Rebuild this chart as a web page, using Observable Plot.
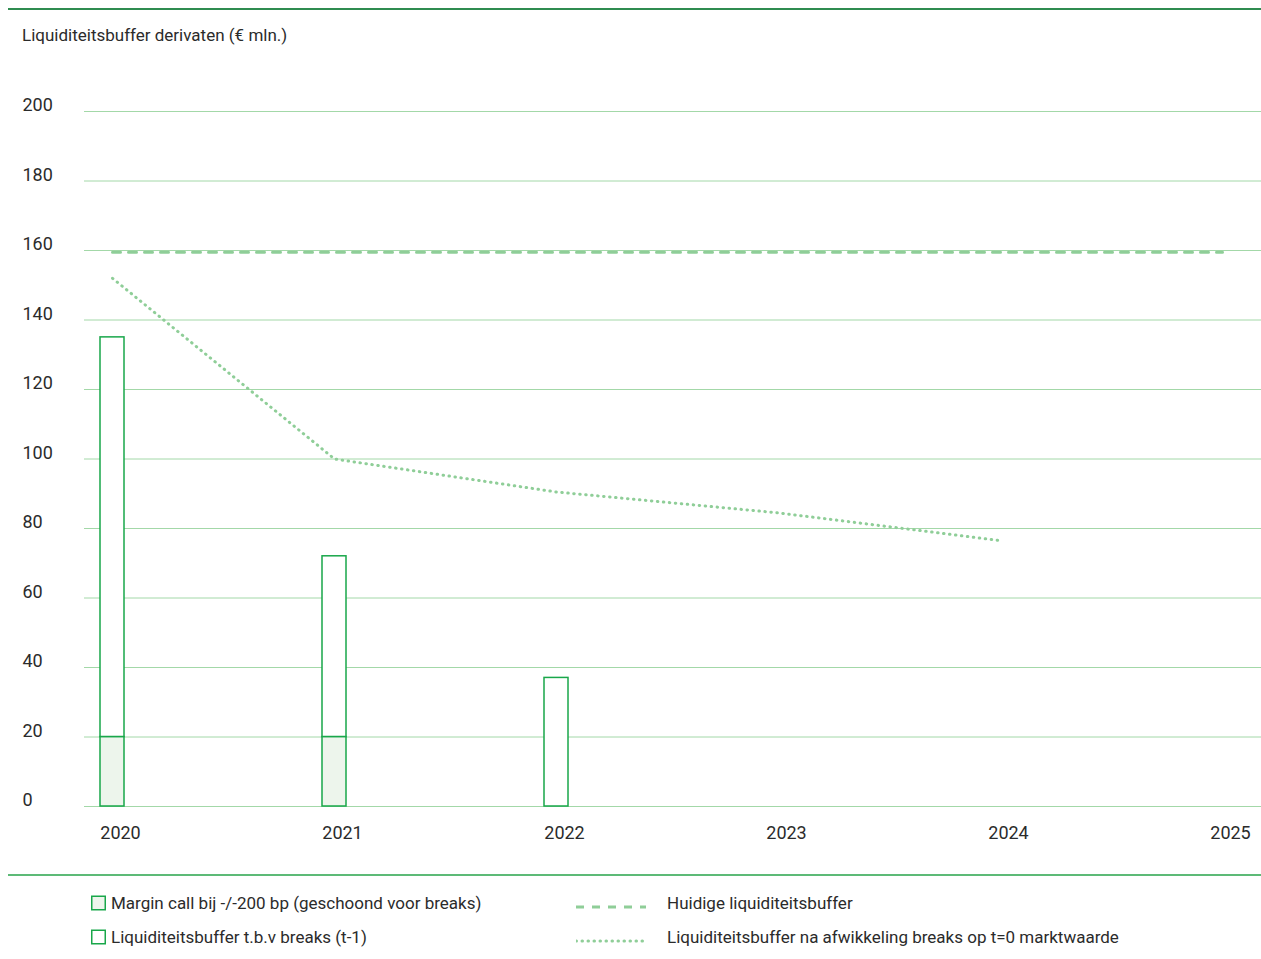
<!DOCTYPE html>
<html>
<head>
<meta charset="utf-8">
<script src="https://cdn.jsdelivr.net/npm/d3@7"></script>
<script src="https://cdn.jsdelivr.net/npm/@observablehq/plot@0.6"></script>
<style>
  html, body { margin: 0; padding: 0; background: #fff; }
  body { width: 1261px; height: 959px; position: relative; font-family: Roboto, "Noto Sans", sans-serif; color: #2b2b2b; overflow: hidden; }
  .rule-top { position: absolute; left: 8px; right: 0; top: 8px; height: 1.5px; background: #2f8c50; }
  .rule-bottom { position: absolute; left: 8px; right: 0; top: 874px; height: 1.5px; background: #5dba77; }
  .title { position: absolute; left: 22px; top: 25px; font-size: 17px; line-height: 20px; }
  #chart { position: absolute; left: 0; top: 60px; }
  .legend-item { position: absolute; font-size: 17px; line-height: 20px; display: flex; align-items: center; white-space: nowrap; }
  .legend-item svg { display: block; }
</style>
</head>
<body>
<div class="rule-top"></div>
<div class="title">Liquiditeitsbuffer derivaten (€ mln.)</div>
<div id="chart"></div>
<div class="rule-bottom"></div>
<div id="legend"></div>
<script>
// Years on the horizontal axis
const years = [2020, 2021, 2022, 2023, 2024, 2025];
// Stacked bars: margin call (bottom) and buffer for breaks (top), € mln.
const barYears = [2020, 2021, 2022];
const marginCall = [20, 20, 0];
const breaksBuffer = [115, 52, 37];
// Current liquidity buffer (flat) across the horizon
const currentBufferYears = [2020, 2025];
const currentBuffer = [159.5, 159.5];
// Buffer after settling breaks at t=0 market value
const afterYears = [2020, 2021, 2022, 2023, 2024];
const afterSettlement = [152, 100, 90.5, 84.5, 76.5];
// Y axis ticks
const yTicks = [0, 20, 40, 60, 80, 100, 120, 140, 160, 180, 200];

const green = "#19a74a";
const lightFill = "#edf5ec";
const gridColor = "#a3d8a8";
const lineColor = "#8fce98";

const bars = barYears.flatMap((year, i) => [
  {year, series: "margin", y1: 0, y2: marginCall[i]},
  {year, series: "buffer", y1: marginCall[i], y2: marginCall[i] + breaksBuffer[i]}
]).filter(d => d.y2 > d.y1);

const flat = currentBufferYears.map((year, i) => ({year, value: currentBuffer[i]}));
const after = afterYears.map((year, i) => ({year, value: afterSettlement[i]}));

const chart = Plot.plot({
  width: 1261,
  height: 800,
  marginLeft: 84,
  marginRight: 0,
  marginTop: 51,
  marginBottom: 54,
  style: {fontFamily: "Roboto, 'Noto Sans', sans-serif", fontSize: "18px", color: "#2b2b2b", background: "transparent"},
  x: {type: "linear", domain: [2020, 2025], range: [112, 1222]},
  y: {domain: [0, 200]},
  marks: [
    Plot.ruleY(yTicks, {stroke: gridColor, strokeWidth: 1}),
    Plot.rectY(bars, {
      x1: "year", x2: "year", y1: "y1", y2: "y2",
      insetLeft: -12, insetRight: -12,
      fill: d => d.series === "margin" ? lightFill : "#ffffff",
      stroke: green, strokeWidth: 1.5
    }),
    Plot.lineY(flat, {x: "year", y: "value", stroke: lineColor, strokeWidth: 3, strokeDasharray: "8,8"}),
    Plot.lineY(after, {x: "year", y: "value", stroke: lineColor, strokeWidth: 3, strokeDasharray: "0.5,5.5", strokeLinecap: "round"}),
    Plot.axisY(yTicks, {tickSize: 0, tickPadding: 0, textAnchor: "start", dx: -62, dy: -6, label: null, fill: "#2b2b2b", fontSize: 18}),
    Plot.axisX(years, {tickSize: 0, tickPadding: 0, dx: 8, dy: 20, tickFormat: d => String(d), label: null, fill: "#2b2b2b", fontSize: 18})
  ]
});
document.getElementById("chart").appendChild(chart);

// Legend below the chart
const legendItems = [
  {label: "Margin call bij -/-200 bp (geschoond voor breaks)", kind: "box", fill: lightFill, left: 91, top: 893},
  {label: "Liquiditeitsbuffer t.b.v breaks (t-1)", kind: "box", fill: "#ffffff", left: 91, top: 927},
  {label: "Huidige liquiditeitsbuffer", kind: "dash", left: 576, top: 893},
  {label: "Liquiditeitsbuffer na afwikkeling breaks op t=0 marktwaarde", kind: "dot", left: 576, top: 927}
];
const legend = d3.select("#legend");
for (const item of legendItems) {
  const div = legend.append("div").attr("class", "legend-item")
    .style("left", item.left + "px").style("top", item.top + "px");
  if (item.kind === "box") {
    const s = div.append("svg").attr("width", 20).attr("height", 20);
    s.append("rect").attr("x", 0.75).attr("y", 3.25).attr("width", 13.5).attr("height", 13.5)
      .attr("fill", item.fill).attr("stroke", green).attr("stroke-width", 1.5);
  } else {
    const s = div.append("svg").attr("width", 91).attr("height", 20);
    const l = s.append("line").attr("x1", 0).attr("x2", 70).attr("y1", 14).attr("y2", 14)
      .attr("stroke", lineColor);
    if (item.kind === "dash") l.attr("stroke-width", 3).attr("stroke-dasharray", "8,8");
    else l.attr("stroke-width", 3).attr("stroke-dasharray", "0.5,5.5").attr("stroke-linecap", "round");
  }
  div.append("span").text(item.label);
}
</script>
</body>
</html>
